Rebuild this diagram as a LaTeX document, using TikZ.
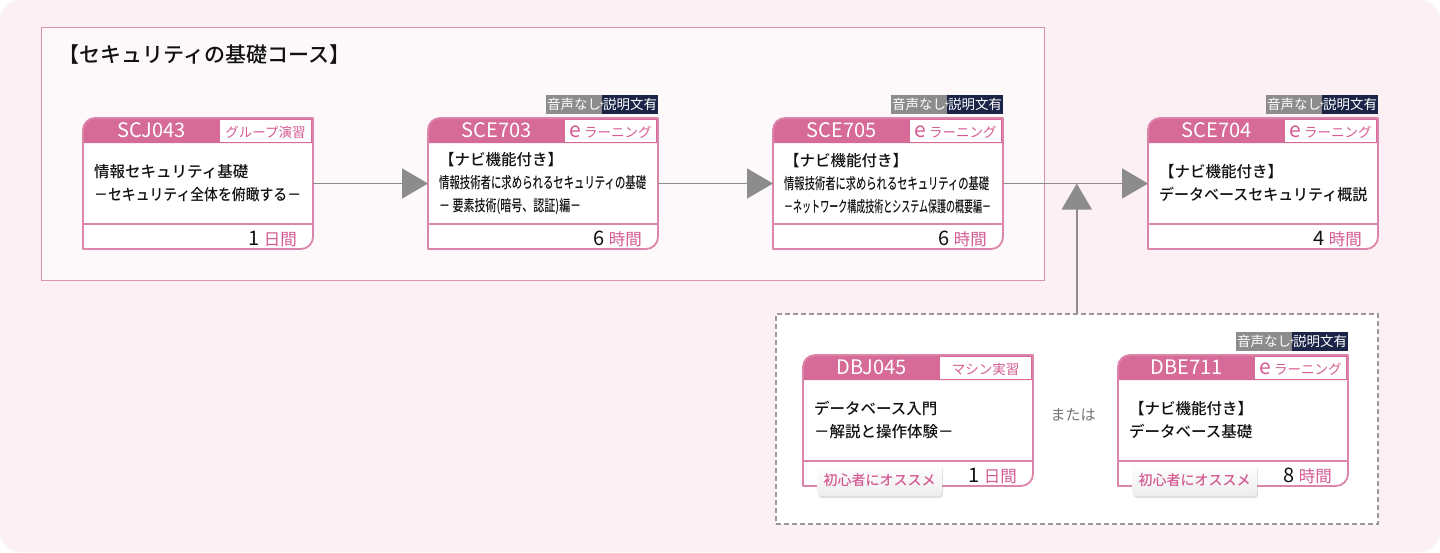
\documentclass[tikz,border=0pt]{standalone}
\usepackage{fontspec}
\setmainfont{Noto Sans CJK JP}
\newfontfamily\crsmedium{Noto Sans CJK JP Medium}
\usepackage{graphicx}
\usepackage{xcolor}
\usetikzlibrary{arrows.meta,calc,positioning,shadows}
\definecolor{crsBack}{HTML}{FCF0F4}
\definecolor{crsGroup}{HTML}{FDF8FA}
\definecolor{crsFrame}{HTML}{DB92B2}
\definecolor{crsPink}{HTML}{D66B98}
\definecolor{crsEdge}{HTML}{DB85AA}
\definecolor{crsText}{HTML}{D45A92}
\definecolor{crsInk}{HTML}{111111}
\definecolor{crsGray}{HTML}{8C8C8C}
\definecolor{crsDash}{HTML}{9A9A9A}
\definecolor{crsNavy}{HTML}{1B2447}
\newcommand\crssize[2]{\fontsize{#1}{#2}\selectfont}
\newcommand\crsfit[2]{\resizebox{#1}{\height}{#2}}
\newcommand\elearn{{\crssize{21}{21}e}\hspace{3pt}ラーニング}
\tikzset{
  crs diagram/.style={x=1pt,y=-1pt, text=crsInk},
  crs card/.style={minimum width=230pt, minimum height=131pt,
    inner sep=0pt, outer sep=0pt},
  crs edge/.style={draw=crsEdge, line width=1.8pt, line join=round},
  crs rule/.style={draw=crsEdge, line width=1.5pt},
  crs code/.style={anchor=base, text=white, font=\crssize{20}{20}},
  crs kind/.style={anchor=base, text=crsText, font=\crssize{13.5}{13.5}},
  crs body/.style={anchor=west, align=left, inner sep=0pt,
    font=\crsmedium\crssize{15.5}{23}},
  crs span/.style={anchor=base east, inner sep=0pt, font=\crssize{20}{20}},
  crs badge/.style={text=white, font=\crssize{13.5}{13.5}, inner sep=0pt,
    minimum height=19pt, minimum width=55.5pt},
  crs plus/.style={text=white, font=\crssize{9}{9}, inner sep=0pt},
  crs tag/.style={text=crsText, font=\crsmedium\crssize{14}{14},
    rounded corners=4pt, top color=white, bottom color=black!7,
    minimum width=125pt, minimum height=32pt, inner sep=0pt,
    drop shadow={opacity=0.25, shadow xshift=1pt, shadow yshift=-2pt}},
  crs group/.style={draw=crsFrame, fill=crsGroup, line width=1.1pt,
    inner sep=0pt},
  crs alt/.style={draw=crsDash, fill=white, line width=1.5pt,
    dash pattern=on 5pt off 3pt, inner sep=0pt},
  crs title/.style={anchor=west, font=\crsmedium\crssize{21}{21}},
  crs or/.style={text=black!55, font=\crssize{15}{15}},
  crs arrow/.style={draw=crsGray, line width=1.6pt,
    -{Triangle[length=26pt,width=30pt]}}
}
% card: name, x, y, code, kind, body, number, unit
\newcommand\coursecard[8]{%
  \begin{scope}[shift={(#2,#3)}]
    \node[crs card] (#1) at (115,65.5) {};
    \fill[white] (0,131) -- (0,12) .. controls (0,5.4) and (5.4,0) .. (12,0)
      -- (230,0) -- (230,119) .. controls (230,125.6) and (224.6,131) .. (218,131) -- cycle;
    \fill[crsPink] (0,25) -- (0,12) .. controls (0,5.4) and (5.4,0) .. (12,0)
      -- (230,0) -- (230,25) -- cycle;
    \fill[white] (137,2) rectangle (228,24);
    \node[crs code] (#1-code) at (68.5,19.5) {#4};
    \node[crs kind] (#1-kind) at (182.5,19) {#5};
    \draw[crs rule] (0,106) -- (230,106);
    \node[crs body] (#1-body) at (11,65.5) {#6};
    \node[crs span] (#1-time) at (214,127)
      {#7\hspace{4pt}\textcolor{crsText}{\crssize{16.5}{16.5}#8}};
    \draw[crs edge] (0,131) -- (0,12) .. controls (0,5.4) and (5.4,0) .. (12,0)
      -- (230,0) -- (230,119) .. controls (230,125.6) and (224.6,131) .. (218,131) -- cycle;
  \end{scope}}

\begin{document}
\begin{tikzpicture}[crs diagram]
\fill[crsBack, rounded corners=20pt] (0,0) rectangle (1440,552);
\useasboundingbox (0,0) rectangle (1440,552);

% course groups
\node[crs group, anchor=north west, minimum width=1003pt, minimum height=253pt]
  (basics) at (41,27) {};
\node[crs title] (basics-title) at (55,55) {【セキュリティの基礎コース】};
\node[crs alt, anchor=north west, minimum width=602pt, minimum height=210pt]
  (choice) at (775,313) {};
\node[crs or] (choice-or) at (1073,415) {または};

% cards
\coursecard{scj043}{83}{118}{SCJ043}{グループ演習}
  {情報セキュリティ基礎\\\crsfit{207pt}{－セキュリティ全体を俯瞰する－}}{1}{日間}
\coursecard{sce703}{428}{118}{SCE703}{\elearn}
  {\crssize{15.5}{20.5}【ナビ機能付き】\\\crsfit{207pt}{情報技術者に求められるセキュリティの基礎}\\\crsfit{142pt}{－ 要素技術(暗号、認証)編－}}{6}{時間}
\coursecard{sce705}{773}{118}{SCE705}{\elearn}
  {\crssize{15.5}{21}【ナビ機能付き】\\\crsfit{205pt}{情報技術者に求められるセキュリティの基礎}\\\crsfit{207pt}{－ネットワーク構成技術とシステム保護の概要編－}}{6}{時間}
\coursecard{sce704}{1148}{118}{SCE704}{\elearn}
  {【ナビ機能付き】\\\crsfit{208pt}{データベースセキュリティ概説}}{4}{時間}
\coursecard{dbj045}{803}{355}{DBJ045}{マシン実習}
  {\crssize{15.5}{20.5}データベース入門\\－解説と操作体験－}{1}{日間}
\coursecard{dbe711}{1118}{355}{DBE711}{\elearn}
  {【ナビ機能付き】\\データベース基礎}{8}{時間}

% media badges
\foreach \card in {sce703,sce705,sce704,dbe711}{
  \node[crs badge, fill=crsNavy, above left=4pt and 0pt of \card.north east]
    (\card-desc) {説明文有};
  \node[crs badge, fill=crsGray, left=0pt of \card-desc] (\card-audio) {音声なし};
  \node[crs plus] (\card-plus) at (\card-desc.west) {+};
}
% beginner tags
\foreach \card in {dbj045,dbe711}{
  \node[crs tag, anchor=north west] (\card-tag) at ($(\card.south west)+(14,-22)$)
    {初心者にオススメ};
}

% flow
\draw[crs arrow] (scj043.east) -- (sce703.west);
\draw[crs arrow] (sce703.east) -- (sce705.west);
\draw[crs arrow] (sce705.east) -- (sce704.west);
\coordinate (merge) at (choice.north |- sce705.east);
\draw[crs arrow] (choice.north) -- (merge);
\end{tikzpicture}
\end{document}
